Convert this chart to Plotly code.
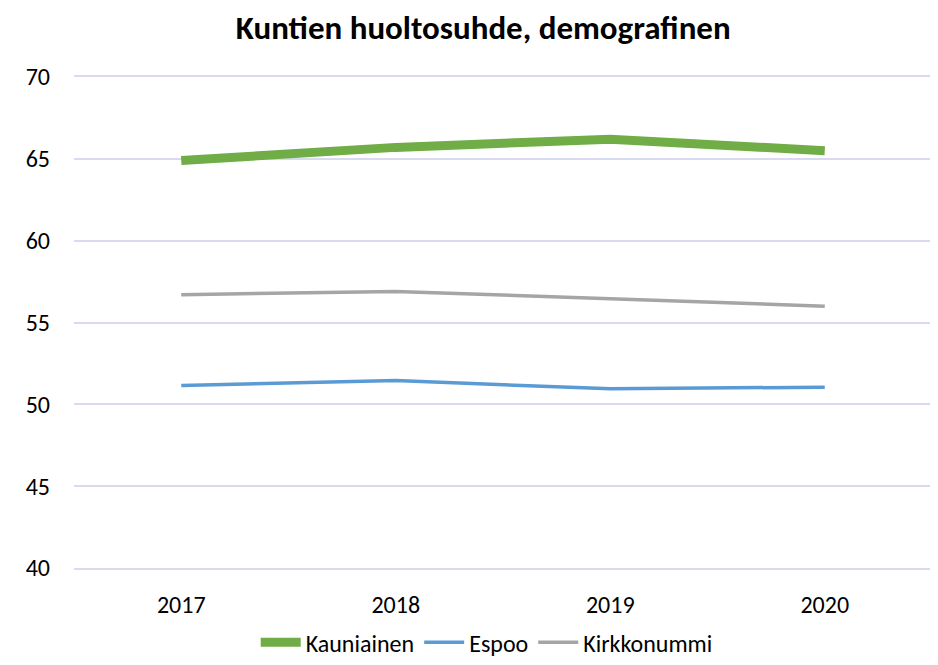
import plotly.graph_objects as go

years = ["2017", "2018", "2019", "2020"]
kauniainen = [64.9, 65.7, 66.2, 65.5]
espoo = [51.15, 51.45, 50.95, 51.05]
kirkkonummi = [56.7, 56.9, 56.45, 56.0]

series = [
    ("Kauniainen", kauniainen, "#70AD47", 9),
    ("Espoo", espoo, "#5B9BD5", 3.5),
    ("Kirkkonummi", kirkkonummi, "#A5A5A5", 3.5),
]

fig = go.Figure()
for name, vals, color, w in series:
    fig.add_trace(go.Scatter(x=years, y=vals, name=name, mode="lines",
                             line=dict(color=color, width=w)))

font_family = "Carlito, Calibri, Lato, sans-serif"
grid = "#D9D9EF"
# the page body adds an 8px margin, so the figure is 930x657
fig.update_layout(
    width=930, height=657,
    margin=dict(l=66, r=6, t=69, b=97, autoexpand=False),
    paper_bgcolor="white", plot_bgcolor="white",
    font=dict(family=font_family, size=24, color="#000000"),
    title=dict(text="<b>Kuntien huoltosuhde, demografinen</b>",
               x=0.511, xanchor="center", y=0.970, yanchor="middle",
               font=dict(family=font_family, size=33, color="#000000")),
    showlegend=True,
    legend=dict(orientation="h", x=0.481, xanchor="center", y=-0.152, yanchor="middle",
                font=dict(size=24), itemwidth=40, traceorder="normal",
                tracegroupgap=0),
    xaxis=dict(type="category", range=[-0.5, 3.5], showgrid=False, zeroline=False,
               showline=True, linecolor=grid, linewidth=1.5, mirror=True,
               ticks="", ticklabelstandoff=14, tickfont=dict(size=24)),
    yaxis=dict(range=[40, 70], dtick=5, showgrid=True, gridcolor=grid, gridwidth=1.5,
               zeroline=False, showline=False, ticks="", ticklabelstandoff=23,
               tickfont=dict(size=24)),
)
fig.write_html("out.html")
